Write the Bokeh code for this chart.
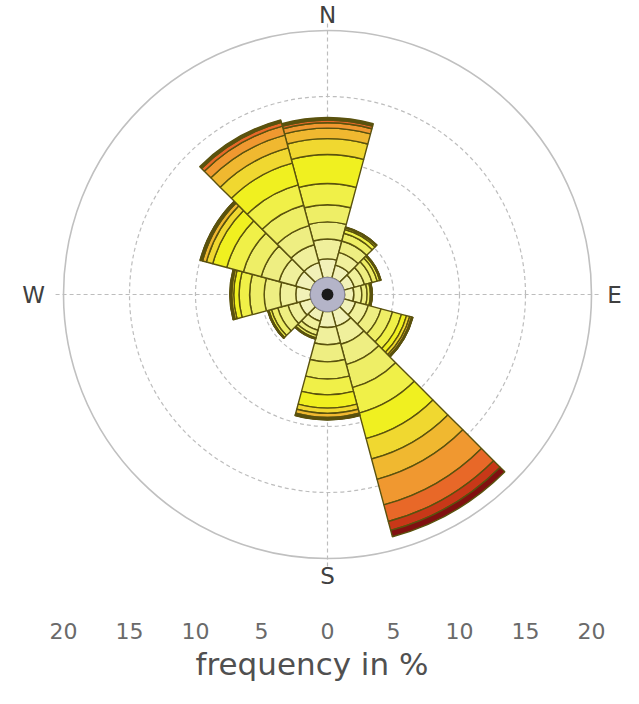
import numpy as np
from bokeh.plotting import figure
from bokeh.models import Range1d, FixedTicker, ColumnDataSource
from bokeh.embed import file_html
from bokeh.resources import INLINE
from bokeh.core.properties import value

# ---------------- data ----------------
directions = [0, 30, 60, 90, 120, 150, 180, 210, 240, 270, 300, 330]
sector_width = 30
calm = 1.3  # % of calms (centre disc radius)

class_colors = ["#f1f1b8", "#f0f09c", "#eeee82", "#eeee66", "#f0f048", "#f0f020",
                "#f0d830", "#f0b830", "#f09830", "#e86828", "#c83818", "#801010"]

# frequency (%) per speed class, for each direction
freq_000 = [1.4, 1.5, 1.3, 1.3, 1.6, 2.2, 1.2, 0.8, 0.4, 0.2, 0.1, 0.1]
freq_030 = [1.0, 1.0, 0.9, 0.6, 0.3, 0.12, 0.05, 0.02, 0.01, 0.0, 0.0, 0.0]
freq_060 = [0.8, 0.8, 0.6, 0.4, 0.2, 0.06, 0.02, 0.01, 0.01, 0.0, 0.0, 0.0]
freq_090 = [0.7, 0.6, 0.4, 0.25, 0.1, 0.03, 0.01, 0.01, 0.0, 0.0, 0.0, 0.0]
freq_120 = [0.9, 1.0, 1.0, 0.9, 0.7, 0.4, 0.25, 0.15, 0.05, 0.03, 0.01, 0.01]
freq_150 = [1.2, 1.4, 1.6, 1.8, 2.0, 2.0, 1.6, 1.6, 2.0, 1.3, 0.7, 0.5]
freq_180 = [1.2, 1.3, 1.3, 1.3, 1.2, 1.0, 0.4, 0.3, 0.1, 0.05, 0.03, 0.02]
freq_210 = [0.8, 0.7, 0.4, 0.2, 0.06, 0.02, 0.01, 0.01, 0.0, 0.0, 0.0, 0.0]
freq_240 = [0.9, 0.9, 0.8, 0.5, 0.2, 0.06, 0.02, 0.01, 0.01, 0.0, 0.0, 0.0]
freq_270 = [1.1, 1.2, 1.2, 1.1, 0.8, 0.4, 0.15, 0.08, 0.04, 0.02, 0.01, 0.0]
freq_300 = [1.2, 1.3, 1.4, 1.4, 1.3, 1.1, 0.5, 0.3, 0.1, 0.05, 0.03, 0.02]
freq_330 = [1.2, 1.4, 1.5, 1.6, 1.6, 1.7, 1.2, 1.0, 0.7, 0.3, 0.1, 0.1]

freq_by_dir = [freq_000, freq_030, freq_060, freq_090, freq_120, freq_150,
               freq_180, freq_210, freq_240, freq_270, freq_300, freq_330]

grid_radii = [5, 10, 15]
outer_radius = 20
tick_values = [-20, -15, -10, -5, 0, 5, 10, 15, 20]
tick_labels = ["20", "15", "10", "5", "0", "5", "10", "15", "20"]
compass_labels = ["N", "E", "S", "W"]

# ---------------- layout ----------------
W, H = 623, 688
px_per_unit = 13.2
cx, cy = 327, 294          # centre of rose in figure pixels
frame_bottom = 595
x0 = -cx / px_per_unit
x1 = (W - cx) / px_per_unit
y1 = cy / px_per_unit
y0 = -(frame_bottom - cy) / px_per_unit

p = figure(width=W, height=H, output_backend="svg", toolbar_location=None,
           x_range=Range1d(x0, x1), y_range=Range1d(y0, y1),
           min_border_left=0, min_border_right=0, min_border_top=0,
           min_border_bottom=H - frame_bottom, y_axis_location=None)
p.outline_line_color = None
p.grid.visible = False
p.background_fill_color = "white"

# grid
for r in grid_radii:
    p.circle(x=0, y=0, radius=r, fill_color=None, line_color="#bdbdbd",
             line_width=1.2, line_dash="4 3")
p.circle(x=0, y=0, radius=outer_radius, fill_color=None, line_color="#c0c0c0",
         line_width=1.6)
p.segment(x0=[-20.6, 0], y0=[0, -20.6], x1=[20.6, 0], y1=[0, 20.6],
          line_color="#bdbdbd", line_width=1.2, line_dash="4 3")

# wedges
rows = dict(inner=[], outer=[], start=[], end=[], color=[])
for d, freqs in zip(directions, freq_by_dir):
    base = calm
    for k, f in enumerate(freqs):
        if f <= 0:
            continue
        rows["inner"].append(base)
        rows["outer"].append(base + f)
        rows["start"].append(np.radians(90 - d - sector_width / 2))
        rows["end"].append(np.radians(90 - d + sector_width / 2))
        rows["color"].append(class_colors[k])
        base += f
src = ColumnDataSource(rows)
p.annular_wedge(x=0, y=0, inner_radius="inner", outer_radius="outer",
                start_angle="start", end_angle="end", fill_color="color",
                line_color="#5a520e", line_width=1.4, source=src)

# calm disc
p.circle(x=0, y=0, radius=calm, fill_color="#b4b4c8", line_color="#8a8aa0", line_width=1)
p.circle(x=0, y=0, radius=0.45, fill_color="#1a1a1a", line_color=None)

# compass labels
p.text(x=[0, 21.74, 0, -22.27], y=[21.2, 0, -21.36, 0], text=compass_labels,
       text_align="center", text_baseline="middle", text_font=value("DejaVu Sans"),
       text_font_size="23px", text_color="#404040")

# x axis
ax = p.xaxis[0]
ax.ticker = FixedTicker(ticks=tick_values)
ax.major_label_overrides = {v: s for v, s in zip(tick_values, tick_labels)}
ax.axis_line_color = None
ax.major_tick_line_color = None
ax.minor_tick_line_color = None
ax.major_tick_out = 0
ax.major_tick_in = 0
ax.major_label_standoff = 27
ax.major_label_text_font = "DejaVu Sans"
ax.major_label_text_font_size = "22px"
ax.major_label_text_color = "#6a6a6a"
ax.axis_label = "frequency in %"
ax.axis_label_standoff = 4
ax.axis_label_text_font = "DejaVu Sans"
ax.axis_label_text_font_style = "normal"
ax.axis_label_text_font_size = "31px"
ax.axis_label_text_color = "#505050"

open("out.html", "w").write(file_html(p, INLINE))
